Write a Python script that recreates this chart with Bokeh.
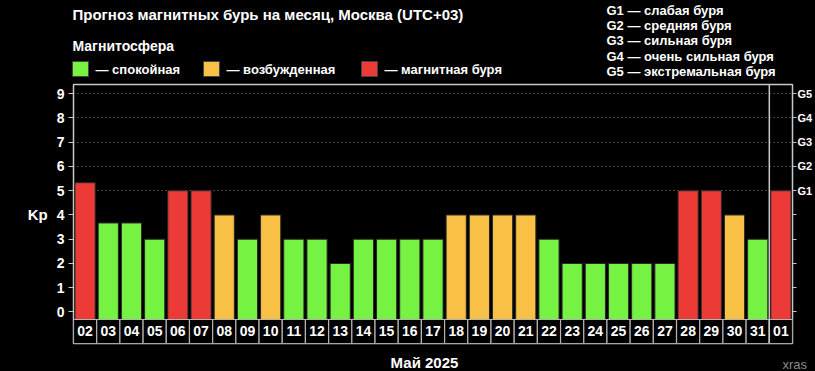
from bokeh.plotting import figure
from bokeh.layouts import column
from bokeh.models import LinearAxis, FixedTicker, Range1d, Span, Grid, ColumnDataSource
from bokeh.core.properties import value
from bokeh.embed import file_html
from bokeh.resources import INLINE

# ---------------- data ----------------
days = ["02", "03", "04", "05", "06", "07", "08", "09", "10", "11", "12", "13", "14", "15", "16",
        "17", "18", "19", "20", "21", "22", "23", "24", "25", "26", "27", "28", "29", "30", "31", "01"]
kp = [5.33, 3.67, 3.67, 3, 5, 5, 4, 3, 4, 3, 3, 2, 3, 3, 3,
      3, 4, 4, 4, 4, 3, 2, 2, 2, 2, 2, 5, 5, 4, 3, 5]
month_label = "Май 2025"
title_text = "Прогноз магнитных бурь на месяц, Москва (UTC+03)"
legend_title = "Магнитосфера"
legend_names = ["спокойная", "возбужденная", "магнитная буря"]
g_levels = ["G1", "G2", "G3", "G4", "G5"]
g_kp = [5, 6, 7, 8, 9]
g_desc = ["слабая буря", "средняя буря", "сильная буря", "очень сильная буря", "экстремальная буря"]
kp_ticks = [0, 1, 2, 3, 4, 5, 6, 7, 8, 9]
watermark = "xras"

GREEN, ORANGE, RED = "#76F243", "#F8C044", "#EC3A37"
legend_colors = [GREEN, ORANGE, RED]
FONT = "Liberation Sans"
BG = "black"

def kp_color(v):
    if v >= 5:
        return RED
    if v >= 4:
        return ORANGE
    return GREEN

W = 815
HEAD_H = 80
FOOT_H = 24
MAIN_H = 371 - HEAD_H - FOOT_H

def blank_fig(h, y_top):
    f = figure(width=W, height=h, x_range=Range1d(0, W), y_range=Range1d(y_top + h, y_top),
               x_axis_type=None, y_axis_type=None, title=None,
               output_backend="svg", toolbar_location=None, min_border=0,
               background_fill_color=BG, border_fill_color=BG)
    f.outline_line_color = None
    f.frame_align = False
    return f

# ---------------- header ----------------
head = blank_fig(HEAD_H, 0)

def htext(f, x, y, t, size, bold=True, color="white", align="left", baseline="middle"):
    f.text(x=[x], y=[y], text=[t], text_font=value(FONT), text_font_size=size,
           text_font_style="bold" if bold else "normal", text_color=color,
           text_align=align, text_baseline=baseline)

htext(head, 72, 14, title_text, "15px")
htext(head, 72, 45, legend_title, "14px")
sq_x = [72, 203, 361]
head.quad(left=sq_x, right=[s + 16 for s in sq_x], top=[61] * 3, bottom=[76] * 3,
          fill_color=legend_colors, line_color="#444444", line_width=1)
for sx, name in zip(sq_x, legend_names):
    htext(head, sx + 23, 68.5, "— " + name, "13px")
for k, (g, d) in enumerate(zip(g_levels, g_desc)):
    htext(head, 606, 10 + 15.2 * k, g + " — " + d, "13px")

# ---------------- main chart ----------------
X0, X1 = -0.5, len(days) - 0.5
Y0, Y1 = -1.30, 9.38
BAR_BASE = -0.31

p = figure(width=W, height=MAIN_H, x_range=Range1d(X0, X1), y_range=Range1d(Y0, Y1),
           x_axis_type=None, y_axis_type=None, title=None,
           output_backend="svg", toolbar_location=None,
           min_border_left=73, min_border_right=16, min_border_top=4, min_border_bottom=4,
           background_fill_color=BG, border_fill_color=BG)
p.frame_align = False
p.outline_line_color = "#c8c8c8"
p.outline_line_width = 1.5

yl = LinearAxis(ticker=FixedTicker(ticks=kp_ticks), axis_label="Kp",
                axis_label_orientation="horizontal", axis_label_standoff=6,
                axis_label_text_font=FONT, axis_label_text_font_style="bold",
                axis_label_text_font_size="15px", axis_label_text_color="white",
                major_label_text_font=FONT, major_label_text_font_style="bold",
                major_label_text_font_size="14px", major_label_text_color="white",
                major_tick_in=0, major_tick_out=5, major_tick_line_color="#c8c8c8",
                minor_tick_line_color=None, axis_line_color=None, major_label_standoff=4)
p.add_layout(yl, "left")

g_overrides = {t: "" for t in kp_ticks}
g_overrides.update({lvl: g for lvl, g in zip(g_kp, g_levels)})
yr = LinearAxis(ticker=FixedTicker(ticks=kp_ticks), major_label_overrides=g_overrides,
                major_label_text_font=FONT, major_label_text_font_style="bold",
                major_label_text_font_size="11px", major_label_text_color="white",
                major_tick_in=0, major_tick_out=4, major_tick_line_color="#c8c8c8",
                minor_tick_line_color=None, axis_line_color=None, major_label_standoff=1)
p.add_layout(yr, "right")

p.add_layout(Grid(dimension=1, ticker=FixedTicker(ticks=g_kp), grid_line_color="#8a8a8a",
                  grid_line_dash="1 3", grid_line_width=1))

idx = list(range(len(days)))
src = ColumnDataSource(dict(x=idx, kp=kp, day=days, color=[kp_color(v) for v in kp]))

p.vbar(x="x", top="kp", bottom=BAR_BASE, width=0.87, fill_color="color",
       line_color="#2a2a2a", line_width=1, source=src)

p.quad(left=[i - 0.5 for i in idx], right=[i + 0.5 for i in idx],
       bottom=Y0, top=BAR_BASE, fill_color=BG, line_color="#b5b5b5", line_width=1.2)
p.text(x="x", y=(Y0 + BAR_BASE) / 2, text="day", source=src, text_font=value(FONT),
       text_font_style="bold", text_font_size="14px", text_color="white",
       text_align="center", text_baseline="middle")

p.add_layout(Span(location=len(days) - 1.5, dimension="height", line_color="#c8c8c8", line_width=1.5))

# ---------------- footer ----------------
foot = blank_fig(FOOT_H, 371 - FOOT_H)
htext(foot, 424, 362, month_label, "15px", align="center")
htext(foot, 782, 371, watermark, "13px", bold=False, color="#8a8a8a", baseline="bottom")

layout = column(head, p, foot, spacing=0)
html = file_html(layout, INLINE)
html = html.replace("<body>", '<body style="background-color:#000000;">')
open("out.html", "w").write(html)
